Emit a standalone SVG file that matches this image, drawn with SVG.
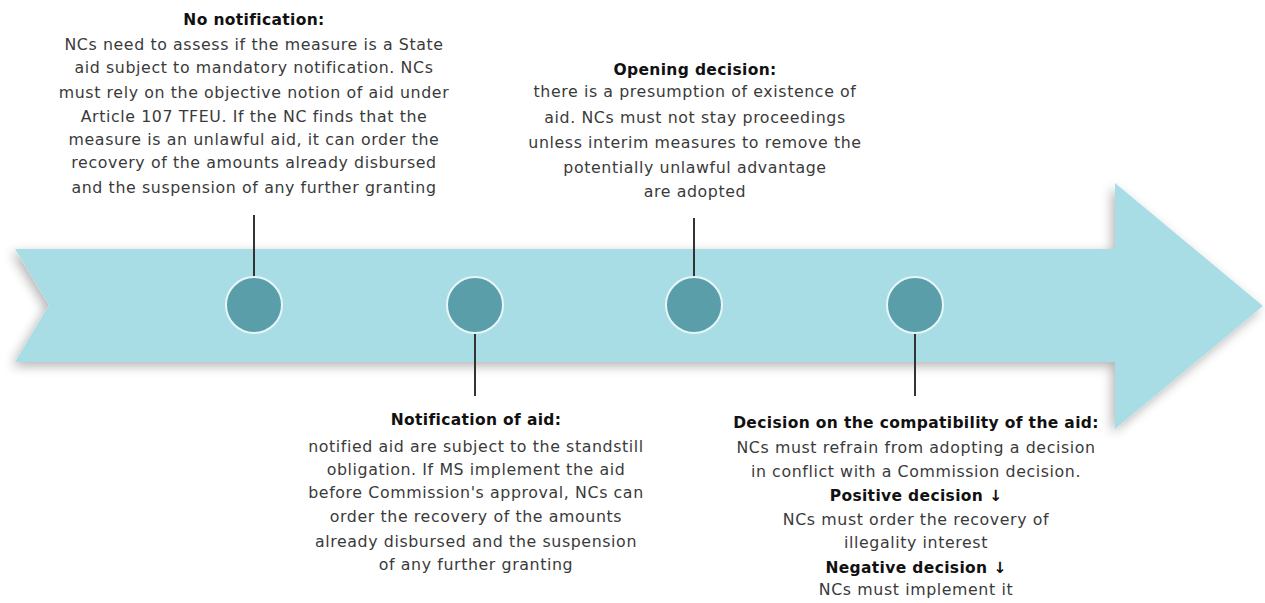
<svg xmlns="http://www.w3.org/2000/svg" width="1265" height="603" viewBox="0 0 1265 603">
<defs>
<filter id="sh" x="-5%" y="-20%" width="110%" height="140%">
<feGaussianBlur in="SourceAlpha" stdDeviation="6"/>
<feOffset dx="-3" dy="4" result="b"/>
<feComponentTransfer><feFuncA type="linear" slope="0.3"/></feComponentTransfer>
<feMerge><feMergeNode/><feMergeNode in="SourceGraphic"/></feMerge>
</filter>
</defs>
<style>
.t{font-family:"DejaVu Sans",sans-serif;font-size:15.8px;letter-spacing:0.6px;fill:#3a3a3a;text-anchor:middle}
.h{font-family:"DejaVu Sans",sans-serif;font-size:15.5px;letter-spacing:0.35px;font-weight:bold;fill:#111;text-anchor:middle}
.dot{fill:#5a9ea9;stroke:#e6f6f8;stroke-width:2}
.ln{stroke:#333;stroke-width:2}
</style>
<rect width="1265" height="603" fill="#fff"/>
<g id="arrow">
<path d="M15,249 L1115,249 L1115,183 L1263,306 L1115,429 L1115,362 L15,362 L49,305 Z" fill="#a9dde5" filter="url(#sh)"/>
</g>
<g id="connectors">
<line class="ln" x1="254" y1="215" x2="254" y2="278"/>
<line class="ln" x1="475" y1="333" x2="475" y2="396"/>
<line class="ln" x1="694" y1="218" x2="694" y2="278"/>
<line class="ln" x1="915" y1="333" x2="915" y2="396"/>
</g>
<g id="n1">
<circle class="dot" cx="254" cy="305" r="28"/>
<text class="h" x="254" y="25">No notification:</text>
<text class="t" x="254" y="50">NCs need to assess if the measure is a State</text>
<text class="t" x="254" y="73">aid subject to mandatory notification. NCs</text>
<text class="t" x="254" y="98">must rely on the objective notion of aid under</text>
<text class="t" x="254" y="122">Article 107 TFEU. If the NC finds that the</text>
<text class="t" x="254" y="145">measure is an unlawful aid, it can order the</text>
<text class="t" x="254" y="168">recovery of the amounts already disbursed</text>
<text class="t" x="254" y="193">and the suspension of any further granting</text>
</g>
<g id="n2">
<circle class="dot" cx="475" cy="305" r="28"/>
<text class="h" x="476" y="425">Notification of aid:</text>
<text class="t" x="476" y="452">notified aid are subject to the standstill</text>
<text class="t" x="476" y="475">obligation. If MS implement the aid</text>
<text class="t" x="476" y="498">before Commission's approval, NCs can</text>
<text class="t" x="476" y="522">order the recovery of the amounts</text>
<text class="t" x="476" y="547">already disbursed and the suspension</text>
<text class="t" x="476" y="570">of any further granting</text>
</g>
<g id="n3">
<circle class="dot" cx="694" cy="305" r="28"/>
<text class="h" x="695" y="75">Opening decision:</text>
<text class="t" x="695" y="97">there is a presumption of existence of</text>
<text class="t" x="695" y="123">aid. NCs must not stay proceedings</text>
<text class="t" x="695" y="148">unless interim measures to remove the</text>
<text class="t" x="695" y="173">potentially unlawful advantage</text>
<text class="t" x="695" y="197">are adopted</text>
</g>
<g id="n4">
<circle class="dot" cx="915" cy="305" r="28"/>
<text class="h" x="916" y="428">Decision on the compatibility of the aid:</text>
<text class="t" x="916" y="453">NCs must refrain from adopting a decision</text>
<text class="t" x="916" y="477">in conflict with a Commission decision.</text>
<text class="h" x="916" y="501">Positive decision ↓</text>
<text class="t" x="916" y="525">NCs must order the recovery of</text>
<text class="t" x="916" y="548">illegality interest</text>
<text class="h" x="916" y="573">Negative decision ↓</text>
<text class="t" x="916" y="595">NCs must implement it</text>
</g>
</svg>
